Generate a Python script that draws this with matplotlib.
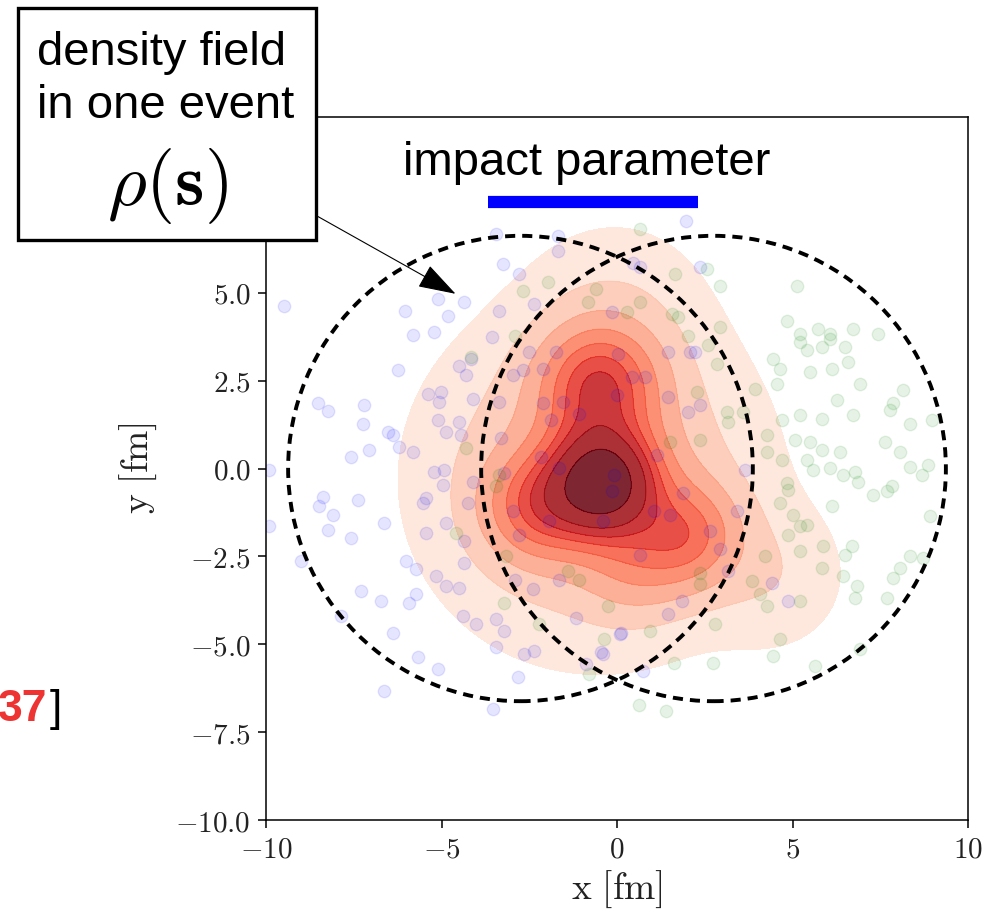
import numpy as np
import matplotlib
matplotlib.use("Agg")
import matplotlib.pyplot as plt
from matplotlib.patches import Circle, Rectangle
from matplotlib.ticker import FuncFormatter

plt.rcParams["mathtext.fontset"] = "cm"

# ---------------------------------------------------------------------------
# nucleon positions [fm]
# ---------------------------------------------------------------------------
blue_x = [-3.45, -9.48, -6.03, -5.11, -4.35, -4.82, -5.82, -5.20, -6.25, -3.26,
          -2.78, -1.69, -1.69, -3.37, -2.36, -3.56, -2.50, -1.74, -4.49, -4.16,
          -4.30, -2.97, -2.69, -2.12, -8.53, -8.24, -7.20, -7.25, -5.39, -5.01,
          -5.06, -4.11, -3.35, -5.11, -4.49, -4.87, -4.44, -6.53, -6.39, -6.20,
          -7.58, -7.06, -5.82, -5.20, -4.92, -9.91, -8.39, -7.39, -3.30, -2.12,
          -1.55, -1.07, -1.88, -2.17, -1.64, -4.11, -3.21, -5.44,
          1.97, 0.47, 0.66, 2.36, -0.15, 1.46, 2.08, 2.22, 0.80, 1.46,
          2.03, 2.36, 0.04, 0.42, -0.01, 3.65, 1.13,
          -8.48, -8.10, -8.24, -7.58, -6.63, -9.91, -9.00, -6.01, -5.73, -5.16,
          -5.44, -5.54, -4.97, -4.87, -4.25, -4.35, -4.35, -4.87, -4.49, -7.29,
          -6.72, -5.92, -5.73, -7.86, -6.39, -5.68, -5.11, -6.63, -4.40, -4.02,
          -3.45, -3.21, -3.45, -2.64, -2.36, -2.83, -3.54, -2.92, -2.40, -1.64,
          -0.88, -0.46, -1.17, 0.11, -0.08, -1.93, -2.97, -2.78, -0.40,
          3.41, 2.93, 3.17, 4.41, 4.88, 1.84, 1.46, 0.75, 0.09, -0.39,
          1.51, 1.04, 0.66, -0.15, 2.65, 1.89]
blue_y = [6.66, 4.63, 4.49, 4.82, 4.75, 4.35, 3.80, 3.88, 2.79, 5.81,
          5.53, 6.62, 6.19, 4.49, 4.68, 3.74, 3.31, 3.31, 2.93, 3.12,
          2.65, 2.65, 2.79, 2.84, 1.85, 1.63, 1.80, 1.28, 2.13, 2.18,
          1.89, 1.99, 1.89, 1.38, 1.33, 1.04, 0.95, 1.04, 0.95, 0.62,
          0.34, 0.53, 0.48, -0.09, -0.04, -0.04, -0.80, -0.89, 0.86, 1.85,
          1.89, 1.56, 1.38, 0.34, 0.01, -0.37, -0.13, -0.84,
          7.04, 5.86, 5.72, 5.72, 4.44, 3.31, 3.31, 3.31, 2.60, 2.04,
          1.61, 1.80, 3.26, 2.60, 2.08, -0.04, 0.38,
          -1.08, -1.31, -1.74, -1.97, -1.55, -1.64, -2.63, -2.63, -2.87, -3.06,
          -1.83, -0.98, -0.46, -1.55, -0.98, -2.07, -2.68, -3.34, -3.39, -3.49,
          -3.77, -3.82, -3.58, -4.19, -4.67, -5.37, -5.70, -6.32, -4.19, -4.43,
          -4.29, -4.62, -5.09, -5.28, -5.18, -5.94, -6.84, -3.16, -3.44, -3.16,
          -5.56, -5.23, -4.24, -4.67, -0.18, -1.50, -1.22, -1.88, -1.50,
          -1.22, -2.30, -2.92, -3.25, -3.77, -3.77, -4.15, -5.75, -4.71, -5.28,
          -1.31, -1.22, -2.45, -0.65, -1.78, -0.70]

green_x = [-1.98, -2.69, -0.60, -0.84, -2.92, -4.16, -4.30,
           0.66, 1.65, 2.56, 2.93, 5.12, 0.66, 0.28, 1.75, 2.03, 2.93,
           2.60, 2.84, 4.83, 5.21, 5.74, 6.07, 5.21, 5.40, 5.83, 6.07,
           6.50, 6.73, 7.45, 6.59, 4.45, 4.64, 4.55, 5.50, 6.12, 6.92,
           8.16, 3.93, 3.12, 3.17, 3.60, 4.69, 5.21, 5.83, 6.26, 6.73,
           7.78, 7.87, 8.35, 8.97, 2.27, 2.36, 4.26, 4.26, 4.69, 5.07,
           5.50, 5.40, 5.83, 6.07, 6.35, 6.45, 6.78, 6.88, 7.64, 8.06,
           8.35, 8.68, 8.87, 4.83, 4.88, 7.30, 7.68, 7.83, 1.51, 1.56,
           5.59, 8.92, 6.12, 4.64, 5.02, 5.21, 5.40, 4.88, 5.21, 5.88,
           6.50, 6.69, 5.83, 6.45, 6.83, 6.78, 7.68, 7.87, 8.06, 8.35,
           8.73, 4.22, 3.84, 4.07, 4.26, 5.21, 2.79, 4.64, 4.45, 2.74,
           1.61, 5.64, 6.92, 0.64, 1.40, 0.94, 2.36, 2.36,
           -4.59, -3.16, -3.21, -2.21, -1.41, -1.07, -0.79, -0.27, -0.36, -3.35,
           -3.45]
green_y = [5.30, 5.06, 5.11, 4.73, 3.78, 3.17, 0.57,
           6.80, 5.53, 5.67, 5.20, 5.20, 4.73, 4.44, 4.30, 3.78, 4.02,
           3.50, 2.98, 4.21, 3.83, 3.97, 3.83, 3.59, 3.36, 3.45, 3.69,
           3.45, 3.97, 3.83, 3.03, 3.12, 2.84, 2.41, 2.74, 2.84, 2.41,
           2.22, 2.27, 1.61, 1.33, 1.61, 1.38, 1.52, 1.42, 1.94, 1.52,
           1.66, 1.85, 1.28, 1.38, 2.18, 0.81, 0.95, 0.48, 0.24, 0.81,
           0.76, 0.24, 0.53, 0.01, 0.48, -0.18, -0.09, -0.37, 0.76, 0.48,
           0.05, -0.18, 0.10, -0.42, -0.61, -0.75, -0.65, -0.51, 0.76, 4.40,
           -0.04, -1.36, -1.08, -0.98, -1.31, -1.64, -1.60, -1.88, -2.35, -2.21,
           -2.45, -2.21, -2.82, -3.06, -3.34, -3.67, -3.67, -3.11, -2.82, -2.49,
           -2.54, -2.49, -3.20, -3.58, -3.91, -3.77, -4.43, -4.85, -5.33, -5.52,
           -5.52, -5.61, -5.14, -6.74, -6.90, -4.62, -2.97, -3.30,
           -1.83, -2.49, -3.82, -4.43, -2.92, -3.16, -5.85, -3.91, -4.85, -0.18,
           -0.51]

# nuclei outlines
nucleus_cx = [-2.75, 2.75]
nucleus_r = 6.62

# impact parameter bar
bar_x = [-3.68, 2.32]
bar_y = 7.59

# density field: hot spots (centre, width, weight)
spot_x = [-0.4, -0.5, -2.3, 2.0, -0.7, 0.0, 4.5, 0.5]
spot_y = [-0.4, 2.4, -1.1, -1.9, -0.3, 4.6, -3.1, -2.8]
spot_sigma = [1.0, 1.1, 1.0, 1.0, 2.7, 1.6, 1.3, 1.0]
spot_w = [1.0, 0.5, 0.35, 0.36, 0.28, 0.07, 0.08, 0.15]
n_levels = 10
level_thresh = 0.05

xticks = [-10, -5, 0, 5, 10]
yticks = [-10.0, -7.5, -5.0, -2.5, 0.0, 2.5, 5.0, 7.5, 10.0]

W, H = 986, 914
fig = plt.figure(figsize=(W / 100, H / 100), dpi=100)
ax = fig.add_axes([266 / W, 1 - 820 / H, 702 / W, 703 / H])

gx, gy = np.meshgrid(np.linspace(-10, 10, 500), np.linspace(-10, 10, 500))
rho = np.zeros_like(gx)
for x0, y0, s, w in zip(spot_x, spot_y, spot_sigma, spot_w):
    rho += w * np.exp(-((gx - x0) ** 2 + (gy - y0) ** 2) / (2 * s ** 2))

# iso-proportion contour levels (as in a kde plot)
vals = np.sort(rho.ravel())[::-1]
cum = np.cumsum(vals) / vals.sum()
props = np.linspace(level_thresh, 1, n_levels)
levels = vals[np.clip(np.searchsorted(cum, 1 - props), 0, vals.size - 1)]
levels[-1] = rho.max() * 1.001

band_colors = plt.cm.Reds(np.linspace(0.1, 1.0, n_levels - 1))
ax.contourf(gx, gy, rho, levels=levels, colors=band_colors, alpha=0.85, zorder=1)
ax.contour(gx, gy, rho, levels=levels[1:-1], colors=band_colors[1:], alpha=0.6,
           linewidths=0.8, zorder=1)

ax.scatter(blue_x, blue_y, s=80, color="b", alpha=0.1, zorder=2)
ax.scatter(green_x, green_y, s=80, color="g", alpha=0.1, zorder=2)

for cx in nucleus_cx:
    ax.add_patch(Circle((cx, 0), nucleus_r, fill=False, color="k", lw=2.8,
                        ls=(0, (2.6, 1.8)), zorder=3))

ax.plot(bar_x, [bar_y, bar_y], color="blue", lw=8.8,
        solid_capstyle="butt", zorder=3)
ax.text(-0.87, 8.34, "impact parameter", ha="center", va="baseline",
        fontsize=34, family="Liberation Sans", zorder=4)

ax.set_xlim(-10, 10)
ax.set_ylim(-10, 10)
ax.set_xticks(xticks)
ax.set_yticks(yticks)
ax.xaxis.set_major_formatter(FuncFormatter(lambda v, p: f"${v:g}$"))
ax.yaxis.set_major_formatter(FuncFormatter(lambda v, p: f"${v:.1f}$"))
ax.tick_params(labelsize=21, length=6, width=1.1, pad=5, labelcolor="#222222")
for sp in ax.spines.values():
    sp.set_linewidth(1.1)
ax.set_xlabel(r"$\mathrm{x\ [fm]}$", fontsize=27, labelpad=4, color="#222222")
ax.set_ylabel(r"$\mathrm{y\ [fm]}$", fontsize=27, labelpad=12, color="#222222")

# label box with arrow
box = Rectangle((18 / W, 1 - 240 / H), 298 / W, 232 / H, transform=fig.transFigure,
                facecolor="white", edgecolor="black", lw=2.4, zorder=10)
fig.patches.append(box)
fig.text(37 / W, 1 - 65 / H, "density field", fontsize=34, family="Liberation Sans",
         ha="left", va="baseline", zorder=11)
fig.text(37 / W, 1 - 118 / H, "in one event", fontsize=34, family="Liberation Sans",
         ha="left", va="baseline", zorder=11)
fig.text(168 / W, 1 - 205 / H, r"$\rho(\mathbf{s})$", fontsize=54,
         ha="center", va="baseline", zorder=11)
ax.annotate("", xy=(-4.6, 4.97), xytext=(317 / W, 1 - 216 / H),
            textcoords="figure fraction", annotation_clip=False,
            arrowprops=dict(arrowstyle="-|>,head_length=2.4,head_width=0.78",
                            mutation_scale=10, lw=0.8, color="k",
                            shrinkA=0, shrinkB=0))

# citation fragment cut at the left edge
fig.text(47 / W, 1 - 721 / H, "37", fontsize=32, family="Liberation Sans",
         weight="bold", color="#ee3333", ha="right", va="baseline")
fig.text(50 / W, 1 - 721 / H, "]", fontsize=32, family="Liberation Sans",
         ha="left", va="baseline")

fig.savefig("out.png", dpi=100)
